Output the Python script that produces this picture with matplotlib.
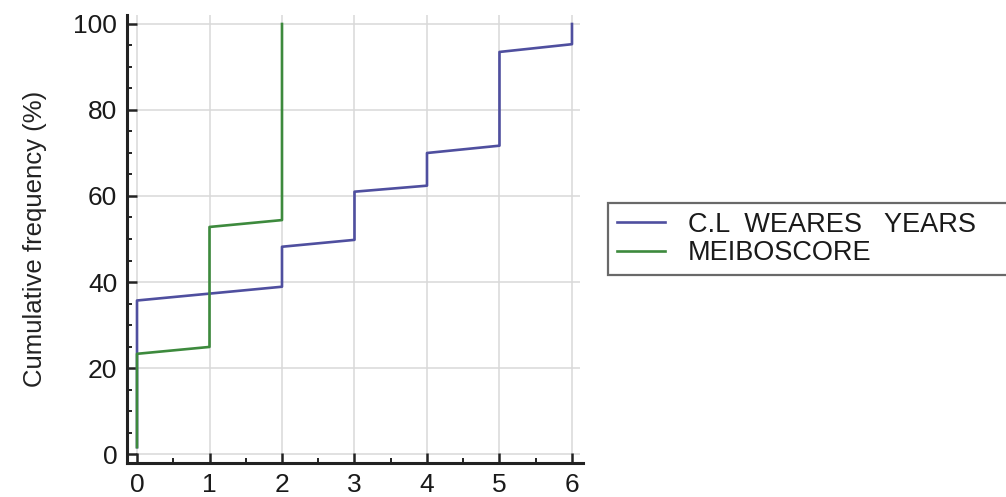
import matplotlib
matplotlib.use("Agg")
import matplotlib.pyplot as plt
from matplotlib.ticker import MultipleLocator

plt.rcParams['font.family'] = ['Liberation Sans', 'DejaVu Sans']

# Data (cumulative frequency, %)
cl_years_x = [0, 0, 1, 2, 2, 3, 3, 4, 4, 5, 5, 6, 6]
cl_years_cum = [1.6, 35.7, 37.3, 38.9, 48.2, 49.8, 61.0, 62.4, 70.0, 71.7, 93.5, 95.3, 100]
meibo_x = [0, 0, 1, 1, 2, 2]
meibo_cum = [1.6, 23.3, 24.9, 52.8, 54.4, 100]

series_labels = ["C.L  WEARES   YEARS", "MEIBOSCORE"]
x_ticks = [0, 1, 2, 3, 4, 5, 6]
y_ticks = [0, 20, 40, 60, 80, 100]

W, H = 1006, 497
fig = plt.figure(figsize=(W / 100, H / 100), dpi=100)
ax = fig.add_axes([127 / W, 1 - 463 / H, (583 - 127) / W, (463 - 15) / H])

ax.set_xlim(-0.138, 6.152)
ax.set_ylim(-2.09, 102.09)

grid_col = '#d9d9d9'
ax.hlines(y_ticks, 0, 6.11, colors=grid_col, linewidth=1.1, zorder=0)
ax.vlines(x_ticks, 0, 102.09, colors=grid_col, linewidth=1.1, zorder=0)

l1, = ax.plot(cl_years_x, cl_years_cum, color='#4f4f9f', linewidth=1.9, zorder=2)
l2, = ax.plot(meibo_x, meibo_cum, color='#3d8a3d', linewidth=1.9, zorder=3)

for s in ['top', 'right']:
    ax.spines[s].set_visible(False)
for s in ['left', 'bottom']:
    ax.spines[s].set_linewidth(2.2)
    ax.spines[s].set_color('#222222')

ax.set_xticks(x_ticks)
ax.set_yticks(y_ticks)
ax.xaxis.set_minor_locator(MultipleLocator(0.5))
ax.yaxis.set_minor_locator(MultipleLocator(5))
ax.tick_params(which='major', direction='in', length=7, width=1.8, color='#222222',
               labelsize=19, labelcolor='#1a1a1a', pad=7)
ax.tick_params(which='minor', direction='in', length=3.5, width=1.4, color='#222222')

ax.set_ylabel('Cumulative frequency (%)', fontsize=18.5, color='#222222')
ax.yaxis.set_label_coords(-0.175, 0.5)

leg = fig.legend([l1, l2], series_labels, loc='upper left',
                 bbox_to_anchor=(608 / W, 0, 0.45, 1 - 203 / H), mode='expand',
                 borderaxespad=0, fontsize=19.5, fancybox=False, frameon=True,
                 handlelength=1.78, handletextpad=0.85, borderpad=0.32,
                 labelspacing=0.1)
frame = leg.get_frame()
frame.set_edgecolor('#444444')
frame.set_linewidth(1.6)
for t in leg.get_texts():
    t.set_color('#1a1a1a')

fig.savefig('out.png', dpi=100)
